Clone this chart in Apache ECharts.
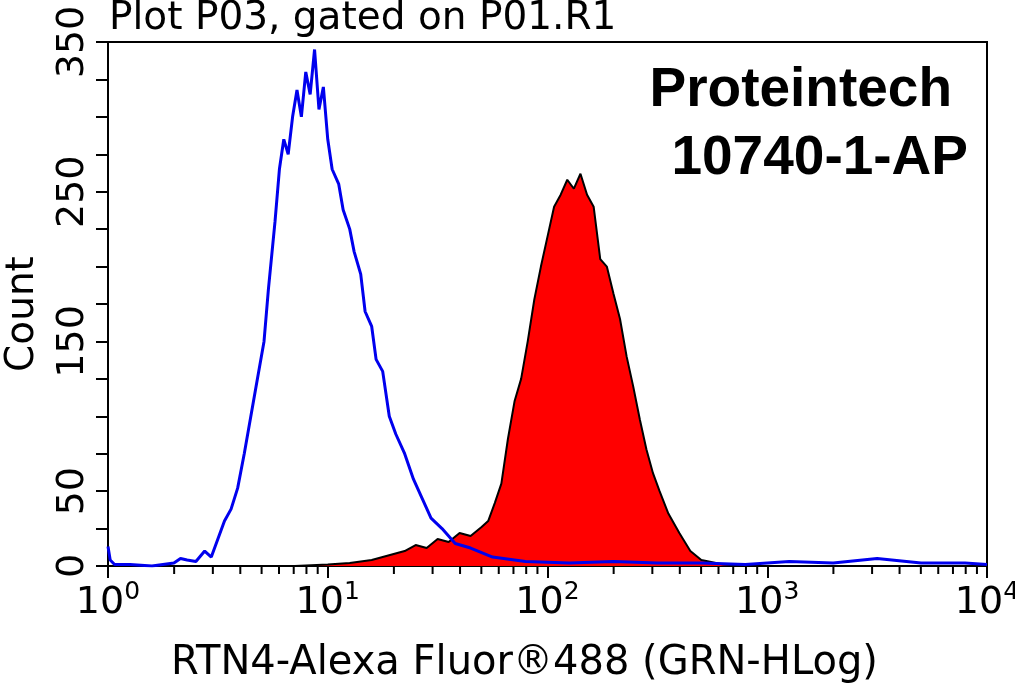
<!DOCTYPE html>
<html><head><meta charset="utf-8">
<script src="https://cdn.jsdelivr.net/npm/echarts@6/dist/echarts.min.js"></script>
<style>html,body{margin:0;padding:0;background:#fff}#c{width:1015px;height:683px}</style>
</head><body><div id="c"></div>
<script>
// log10 fluorescence positions and counts
const blueX = [0,0.01,0.03,0.1,0.2,0.3,0.33,0.36,0.4,0.44,0.47,0.5,0.53,0.56,0.59,0.62,0.65,0.68,0.71,0.73,0.76,0.78,0.8,0.82,0.84,0.86,0.88,0.9,0.92,0.94,0.96,0.98,1.0,1.02,1.05,1.07,1.1,1.12,1.15,1.17,1.2,1.22,1.25,1.28,1.31,1.35,1.39,1.43,1.47,1.52,1.58,1.65,1.75,1.9,2.1,2.3,2.5,2.7,2.9,3.1,3.3,3.5,3.7,3.9,4.0];
const blueY = [13,4,1,1,0,2,5,4,3,10,6,18,30,38,52,75,100,125,150,185,230,265,285,275,300,318,300,330,315,345,305,320,285,265,255,238,225,210,195,170,160,138,130,100,88,75,58,45,32,25,15,12,6,3,2,3,2,2,1,3,2,5,2,2,1];
const redX = [0.85,1.0,1.1,1.2,1.25,1.3,1.35,1.4,1.45,1.5,1.55,1.6,1.65,1.7,1.73,1.76,1.79,1.82,1.85,1.88,1.91,1.94,1.97,2.0,2.03,2.06,2.09,2.12,2.15,2.18,2.21,2.24,2.27,2.3,2.33,2.36,2.39,2.42,2.45,2.48,2.51,2.55,2.6,2.65,2.7,2.8,2.9];
const redY = [0,1,2,4,6,8,10,14,12,18,16,22,20,26,30,42,55,85,110,125,150,178,200,220,240,248,258,252,262,248,240,205,200,182,165,140,120,98,78,62,50,35,22,10,4,1,0];
const yLabelValues = [0,50,150,250,350];
const xLabels = ['0','1','2','3','4'];

const minor = [];
for (let d = 0; d < 4; d++) for (let k = 2; k <= 9; k++) minor.push([d + Math.log10(k)]);

const font = 'DejaVu Sans';
const chart = echarts.init(document.getElementById('c'));
chart.setOption({
  animation: false,
  grid: {left: 108, right: 28, top: 42, bottom: 117, outerBoundsMode: 'none', containLabel: false, show: true, borderColor: '#000', borderWidth: 2},
  title: [
    {text: 'Plot P03, gated on P01.R1', left: 104, top: -6, textStyle: {fontFamily: font, fontSize: 39, fontWeight: 'normal', color: '#000'}},
    {text: 'Proteintech', right: 58, top: 58, textStyle: {fontFamily: 'Liberation Sans', fontSize: 55, fontWeight: 'bold', color: '#000'}},
    {text: '10740-1-AP', right: 42, top: 126, textStyle: {fontFamily: 'Liberation Sans', fontSize: 55, fontWeight: 'bold', color: '#000'}}
  ],
  xAxis: {
    type: 'value', min: 0, max: 4, interval: 1,
    name: 'RTN4-Alexa Fluor®488 (GRN-HLog)', nameLocation: 'middle', nameGap: 78,
    nameTextStyle: {fontFamily: font, fontSize: 40, color: '#000', padding: [0, 46, 0, 0]},
    axisLine: {show: true, lineStyle: {color: '#000', width: 2}},
    axisTick: {show: true, length: 12, lineStyle: {color: '#000', width: 2}},
    splitLine: {show: false},
    axisLabel: {
      margin: 14,
      formatter: v => '{b|10}{s|' + xLabels[Math.round(v)] + '}',
      rich: {b: {fontFamily: font, fontSize: 38, color: '#000'}, s: {fontFamily: font, fontSize: 25, color: '#000', verticalAlign: 'top', padding: [0,0,22,0]}}
    }
  },
  yAxis: {
    type: 'value', min: 0, max: 350, interval: 25,
    name: 'Count', nameLocation: 'middle', nameGap: 66, nameRotate: 90,
    nameTextStyle: {fontFamily: font, fontSize: 39, color: '#000', padding: [0, 20, 0, 0]},
    axisLine: {show: true, lineStyle: {color: '#000', width: 2}},
    axisTick: {show: true, length: 12, lineStyle: {color: '#000', width: 2}},
    splitLine: {show: false},
    axisLabel: {rotate: 90, margin: 16, fontFamily: font, fontSize: 38, color: '#000',
      formatter: v => yLabelValues.includes(v) ? String(v) : ''}
  },
  series: [
    {type: 'line', data: redX.map((x, i) => [x, redY[i]]), symbol: 'none',
      lineStyle: {color: '#000', width: 2}, areaStyle: {color: '#ff0000', opacity: 1}, z: 2},
    {type: 'line', data: blueX.map((x, i) => [x, blueY[i]]), symbol: 'none',
      lineStyle: {color: '#0000ee', width: 3}, z: 3},
    {type: 'custom', data: minor, z: 5, silent: true,
      renderItem: (params, api) => {
        const p = api.coord([api.value(0), 0]);
        return {type: 'line', shape: {x1: p[0], y1: p[1], x2: p[0], y2: p[1] + 8}, style: {stroke: '#000', lineWidth: 2}};
      }}
  ]
});
</script></body></html>
